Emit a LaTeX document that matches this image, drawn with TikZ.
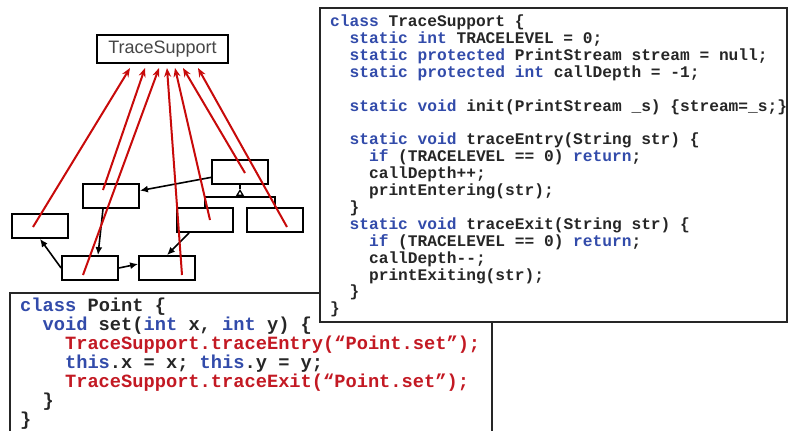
\documentclass[tikz,border=0pt]{standalone}
\usepackage{fontspec}
\setsansfont{Liberation Sans}
\setmonofont{Liberation Mono}
\usetikzlibrary{arrows.meta,calc}
\definecolor{kwblue}{RGB}{50,75,170}
\definecolor{codered}{RGB}{195,25,35}
\definecolor{tracered}{RGB}{200,10,10}
\definecolor{labelgray}{RGB}{70,70,70}
\newcommand{\kw}[1]{\textcolor{kwblue}{#1}}
\newcommand{\redcode}[1]{\textcolor{codered}{#1}}
\newcommand{\tabin}{\hspace*{1.2em}}
\newcommand{\codesmall}{\ttfamily\bfseries\fontsize{16.2}{16.9}\selectfont\lineskiplimit=-\maxdimen}
\newcommand{\codelarge}{\ttfamily\bfseries\fontsize{18.7}{19}\selectfont\lineskiplimit=-\maxdimen}

\begin{document}
\begin{tikzpicture}[x=1pt,y=-1pt,>={Latex[length=8pt,width=7pt]},
  cls/.style={rectangle, draw=black, line width=1.8pt, minimum width=56pt, minimum height=24pt, inner sep=0pt},
  tsbox/.style={rectangle, draw=black, line width=2pt, minimum width=131pt, minimum height=28pt, inner sep=0pt, font=\sffamily\fontsize{18}{20}\selectfont, text=labelgray},
  link/.style={line width=1.6pt, ->},
  trace/.style={draw=tracered, line width=2pt, -{Stealth[length=9pt,width=7pt]}},
  codebox/.style={draw=black!85, line width=1.6pt, fill=white},
  code/.style={anchor=north west, inner sep=0pt, align=left, text=black!85}]
\path[use as bounding box, fill=white] (0,0) rectangle (788,431);

% class diagram
\draw (162.5,49) node[tsbox] (ts) {TraceSupport};
\draw (240,172) node[cls] (A) {};
\draw (111,196) node[cls] (B) {};
\draw (40,226) node[cls] (C) {};
\draw (205,220) node[cls] (D) {};
\draw (275,220) node[cls] (E) {};
\draw (90,268) node[cls] (F) {};
\draw (167,268) node[cls] (G) {};
\coordinate (bar) at (240,197);
\coordinate (apex) at (240,189);

\draw [line width=1.6pt] (D.north) |- (bar) -| (E.north);
\draw [line width=1.6pt] (A.south) -- (apex);
\draw [line width=1.3pt, -{Triangle[open,length=7pt,width=8pt]}] (bar) -- (apex);
\draw [link] (A) -- (B);
\draw [link] ([xshift=-8pt]B.south) -- ([xshift=8pt]F.north);
\draw [link] (F.west) -- (C.south);
\draw [link] (F.east) -- ([yshift=4pt]G.west);
\draw [link] ([xshift=-16pt]D.south) -- (G.north);

% calls into TraceSupport
\draw [trace] ($(C)+(-7,1)$) -- ([xshift=-32.5pt,yshift=-4pt]ts.south);
\draw [trace] ($(B)+(-8,-6)$) -- ([xshift=-17.5pt,yshift=-4pt]ts.south);
\draw [trace] ($(F)+(-7,7)$) -- ([xshift=-3.5pt,yshift=-4pt]ts.south);
\draw [trace] ($(G)+(15,7)$) -- ([xshift=4.5pt,yshift=-4pt]ts.south);
\draw [trace] ($(D)+(5,0)$) -- ([xshift=12.5pt,yshift=-4pt]ts.south);
\draw [trace] ($(A)+(5,1)$) -- ([xshift=20.5pt,yshift=-4pt]ts.south);
\draw [trace] ($(E)+(12,7)$) -- ([xshift=35.5pt,yshift=-4pt]ts.south);

% code of Point
\draw [codebox] (10,436) -- (10,293) -- (492,293) -- (492,436);
\draw (20,297.4) node[code, font=\codelarge] (ptcode) {%
\kw{class} Point \{\\
\tabin\kw{void} set(\kw{int} x, \kw{int} y) \{\\
\tabin\tabin\redcode{TraceSupport.traceEntry(“Point.set”);}\\
\tabin\tabin\kw{this}.x = x; \kw{this}.y = y;\\
\tabin\tabin\redcode{TraceSupport.traceExit(“Point.set”);}\\
\tabin\}\\
\}};

% code of TraceSupport
\draw [codebox] (320,8) rectangle (787,322);
\draw (330,14.6) node[code, font=\codesmall] (tscode) {%
\kw{class} TraceSupport \{\\
\tabin\kw{static int} TRACELEVEL = 0;\\
\tabin\kw{static protected} PrintStream stream = null;\\
\tabin\kw{static protected int} callDepth = -1;\\[16.9pt]
\tabin\kw{static void} init(PrintStream \_s) \{stream=\_s;\}\\[16.9pt]
\tabin\kw{static void} traceEntry(String str) \{\\
\tabin\tabin\kw{if} (TRACELEVEL == 0) \kw{return};\\
\tabin\tabin callDepth++;\\
\tabin\tabin printEntering(str);\\
\tabin\}\\
\tabin\kw{static void} traceExit(String str) \{\\
\tabin\tabin\kw{if} (TRACELEVEL == 0) \kw{return};\\
\tabin\tabin callDepth--;\\
\tabin\tabin printExiting(str);\\
\tabin\}\\
\}};

\end{tikzpicture}
\end{document}
